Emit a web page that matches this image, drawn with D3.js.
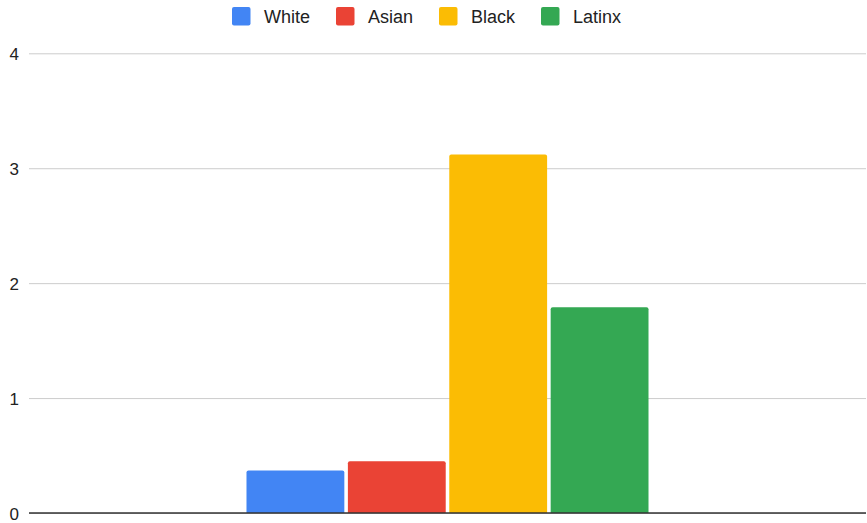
<!DOCTYPE html>
<html>
<head>
<meta charset="utf-8">
<script src="https://cdn.jsdelivr.net/npm/d3@7"></script>
<style>
  body { margin: 0; background: #fff; }
  svg { display: block; font-family: "Liberation Sans", Arial, sans-serif; }
</style>
</head>
<body>
<svg id="chart"></svg>
<script>
// data
const groups = [""];
const seriesNames = ["White", "Asian", "Black", "Latinx"];
const seriesValues = [0.37, 0.45, 3.12, 1.79];
const seriesColors = ["#4285F4", "#EA4335", "#FBBC04", "#34A853"];
const yTicks = [0, 1, 2, 3, 4];

const width = 867;
const height = 523;
const plotLeft = 29, plotRight = 866, plotTop = 53.3, plotBottom = 513;

const svg = d3.select("#chart")
    .attr("width", width)
    .attr("height", height);

const yScale = d3.scaleLinear([0, 4], [plotBottom, plotTop]);

const xGroup = d3.scaleBand(groups, [plotLeft, plotRight])
    .paddingInner(0)
    .paddingOuter(0.541);

const xSeries = d3.scaleBand(seriesNames, [0, xGroup.bandwidth()])
    .paddingInner(0.035)
    .paddingOuter(0);

// grid lines + labels
const yAxis = d3.axisLeft(yScale)
    .tickValues(yTicks)
    .tickSize(-(plotRight - plotLeft))
    .tickPadding(10)
    .tickFormat(d3.format("d"));

const yAxisG = svg.append("g")
    .attr("transform", `translate(${plotLeft},0)`)
    .call(yAxis);

yAxisG.select(".domain").remove();
yAxisG.selectAll(".tick line")
    .attr("stroke", "#cccccc")
    .attr("stroke-width", 1);
yAxisG.selectAll(".tick text")
    .attr("fill", "#222")
    .attr("font-size", 17)
    .attr("dy", "0.38em");

// bars with slightly rounded tops
const r = 2;
function barPath(x, y, w, h) {
    return `M${x},${y + h}V${y + r}Q${x},${y} ${x + r},${y}H${x + w - r}Q${x + w},${y} ${x + w},${y + r}V${y + h}Z`;
}

const bars = seriesNames.map((name, i) => ({ group: groups[0], name: name, value: seriesValues[i], color: seriesColors[i] }));

svg.append("g")
    .selectAll("path")
    .data(bars)
    .join("path")
    .attr("fill", d => d.color)
    .attr("d", d => {
        const x = xGroup(d.group) + xSeries(d.name);
        const y = yScale(d.value);
        return barPath(x, y, xSeries.bandwidth(), yScale(0) - y);
    });

// baseline
svg.append("line")
    .attr("x1", plotLeft)
    .attr("x2", plotRight)
    .attr("y1", yScale(0))
    .attr("y2", yScale(0))
    .attr("stroke", "#333")
    .attr("stroke-width", 1.5);

// legend
const legendX = [232, 336, 439, 541];
const legend = svg.append("g");
const items = legend.selectAll("g")
    .data(seriesNames)
    .join("g")
    .attr("transform", (d, i) => `translate(${legendX[i]},7)`);

items.append("rect")
    .attr("width", 18.5)
    .attr("height", 18.5)
    .attr("rx", 2)
    .attr("fill", (d, i) => seriesColors[i]);

items.append("text")
    .attr("x", 32)
    .attr("y", 9.5)
    .attr("dy", "0.35em")
    .attr("font-size", 18)
    .attr("fill", "#222")
    .text(d => d);
</script>
</body>
</html>
